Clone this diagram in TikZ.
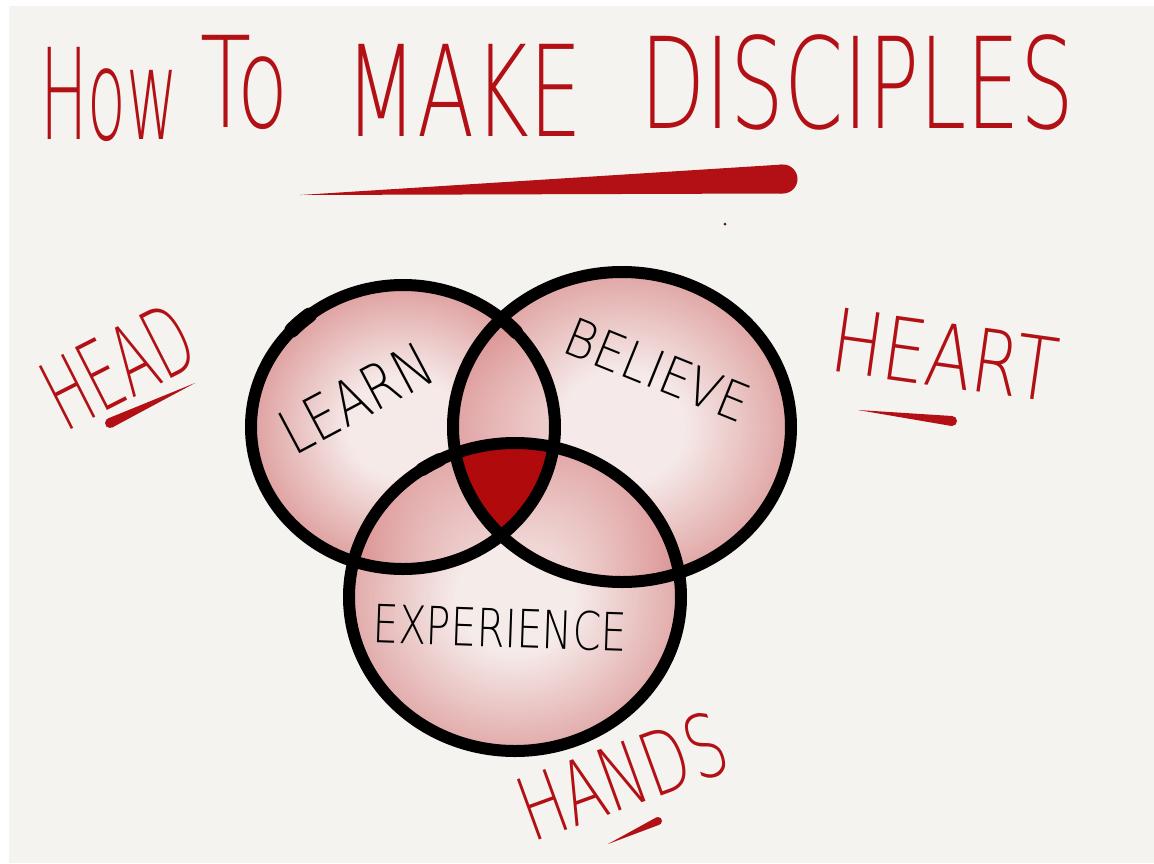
\documentclass[tikz,border=0pt]{standalone}
\usepackage{fontspec}
\usepackage{graphicx}
\usetikzlibrary{calc}
\newfontfamily\handfont{DejaVu Sans ExtraLight}

\definecolor{inkred}{RGB}{178,16,20}
\definecolor{corered}{RGB}{176,10,12}
\definecolor{paper}{RGB}{244,243,240}
\definecolor{washpink}{RGB}{214,128,128}
\definecolor{washmid}{RGB}{232,184,183}
\definecolor{washlight}{RGB}{246,232,231}
\pgfdeclareradialshading{wash}{\pgfpoint{0bp}{0bp}}{color(0bp)=(washlight); color(9bp)=(washlight); color(27bp)=(washpink); color(39bp)=(washpink); color(50bp)=(washmid)}

% brush stroke: thick end, tip, half width
\newcommand{\brushline}[3]{%
  \fill[inkred] ($(#1)!#3!90:(#2)$) -- (#2) -- ($(#1)!#3!-90:(#2)$) -- cycle;
  \fill[inkred] (#1) circle [radius=#3];}

\begin{document}
\begin{tikzpicture}[x=0.02cm, y=-0.02cm]
\tikzstyle{every node}=[inner sep=0pt]
\tikzstyle{ring}=[draw=black, line width=0.24cm]
\tikzstyle{redword}=[text=inkred, font=\handfont\fontsize{55}{55}\selectfont]
\tikzstyle{titleword}=[text=inkred, anchor=base west, font=\handfont\fontsize{72}{72}\selectfont]
\tikzstyle{penword}=[text=black, font=\handfont\fontsize{30}{30}\selectfont]

\useasboundingbox (0,0) rectangle (1154,863);
\fill[white] (0,0) rectangle (1154,863);
\fill[paper] (9,6) rectangle (1154,863);

% title
\node[titleword] (how) at (40,139) {\scalebox{0.5}[1]{How}};
\node[titleword] (to) at (200,127) {\scalebox{0.66}[1]{To}};
\node[titleword] (make) at (345,136) {\scalebox{0.66}[1]{MAKE}};
\node[titleword] (disciples) at (640,128) {\scalebox{0.67}[1]{DISCIPLES}};
\brushline{783,179}{300,195}{0.29cm}
\fill[inkred!60!black] (725,224) circle [radius=1.5];

% circle centres
\coordinate (learnc) at (403,427);
\coordinate (believec) at (622,427);
\coordinate (expc) at (515,597);

% watercolour wash
\shade[shading=wash, opacity=0.8] (learnc) ellipse [x radius=152, y radius=142];
\shade[shading=wash, opacity=0.75] (believec) ellipse [x radius=169, y radius=155];
\shade[shading=wash, opacity=0.7] (expc) ellipse [x radius=166, y radius=154];

% the middle
\begin{scope}
\clip (learnc) ellipse [x radius=152, y radius=142];
\clip (believec) ellipse [x radius=169, y radius=155];
\fill[corered] (expc) ellipse [x radius=166, y radius=154];
\end{scope}

\draw[ring] (learnc) ellipse [x radius=152, y radius=142];
\draw[ring] (believec) ellipse [x radius=169, y radius=155];
\draw[ring] (expc) ellipse [x radius=166, y radius=154];
\draw[line width=0.3cm, line cap=round] (learnc) ++(-137:152 and 142) arc [start angle=-137, end angle=-128, x radius=152, y radius=142];
\draw[line width=0.28cm, line cap=round] (learnc) ++(-50:152 and 142) arc [start angle=-50, end angle=-42, x radius=152, y radius=142];
\draw[line width=0.27cm, line cap=round] (expc) ++(-124:166 and 154) arc [start angle=-124, end angle=-117, x radius=166, y radius=154];

% words in the circles
\node[penword, font=\handfont\fontsize{35}{35}\selectfont, rotate=28] (learn) at (356,398) {\scalebox{0.8}[1]{LEARN}};
\node[penword, rotate=-22] (believe) at (658,370) {\scalebox{0.9}[1]{BELIEVE}};
\node[penword, rotate=-2] (experience) at (500,628) {\scalebox{0.77}[1]{EXPERIENCE}};

% head, heart, hands
\node[redword, rotate=27] (head) at (118,366) {\scalebox{0.56}[1]{HEAD}};
\brushline{110,423}{195,383}{0.1cm}
\node[redword, font=\handfont\fontsize{50}{50}\selectfont, rotate=-8] (heart) at (945,355) {\scalebox{0.78}[1]{HEART}};
\brushline{952,421}{858,410}{0.1cm}
\node[redword, font=\handfont\fontsize{50}{50}\selectfont, rotate=20] (hands) at (622,776) {\scalebox{0.68}[1]{HANDS}};
\brushline{658,821}{608,844}{0.08cm}
\end{tikzpicture}
\end{document}
